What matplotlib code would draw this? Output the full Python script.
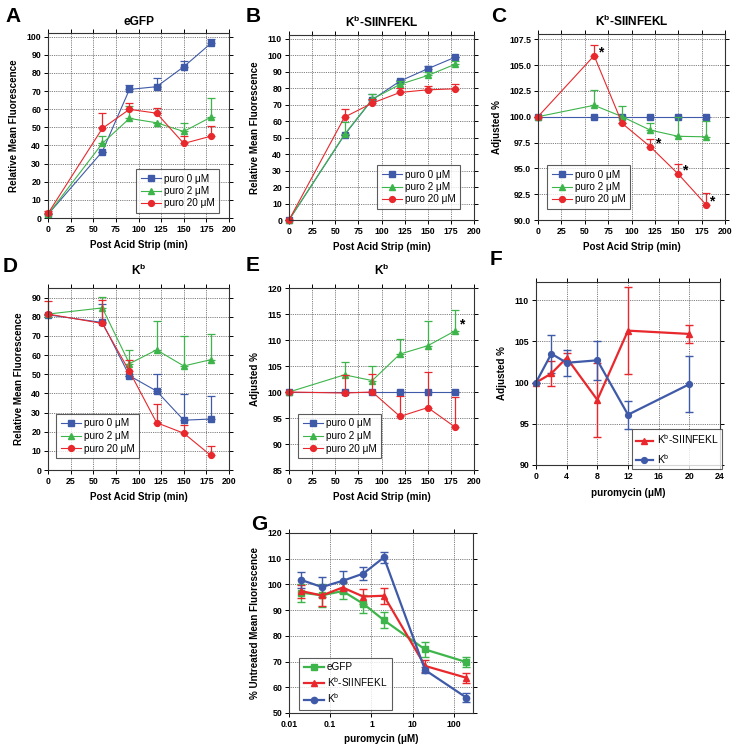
import numpy as np
import matplotlib
matplotlib.use("Agg")
import matplotlib.pyplot as plt

plt.rcParams['font.family'] = ['Liberation Sans', 'DejaVu Sans']
plt.rcParams['mathtext.fontset'] = 'custom'
plt.rcParams['mathtext.rm'] = 'Liberation Sans'
plt.rcParams['mathtext.bf'] = 'Liberation Sans:bold'
plt.rcParams['mathtext.it'] = 'Liberation Sans:italic'

# ---------------- data ----------------
time_min = [0, 60, 90, 120, 150, 180]
series_names = ["puro 0 \u03bcM", "puro 2 \u03bcM", "puro 20 \u03bcM"]

# Panel A: eGFP
a_p0 = [2, 36.6, 70.9, 72.4, 83.4, 96.3]
a_p0_up = [2, 36.6, 73.1, 77.2, 86.4, 98.9]
a_p2 = [2, 41.1, 54.9, 52.5, 47.7, 55.6]
a_p2_up = [2, 45.0, 61.7, 52.5, 52.6, 65.9]
a_p20 = [2.5, 49.4, 59.9, 57.8, 41.1, 45.1]
a_p20_up = [3.8, 58.0, 63.5, 60.4, 45.1, 50.5]

# Panel B: Kb-SIINFEKL
b_p0 = [0, 51.7, 73.1, 84.4, 91.9, 99.0]
b_p0_up = [0, 51.7, 76.5, 85.2, 93.7, 99.0]
b_p2 = [0, 52.0, 73.4, 82.4, 87.8, 94.7]
b_p2_up = [0, 59.8, 76.7, 84.6, 89.7, 96.8]
b_p20 = [0, 62.5, 71.0, 77.5, 79.1, 79.7]
b_p20_up = [0, 67.3, 73.8, 80.1, 81.7, 82.6]

# Panel C: Kb-SIINFEKL adjusted
c_p0 = [100, 100, 100, 100, 100, 100]
c_p0_up = [100, 100, 100, 100, 100, 100]
c_p2 = [100, 101.1, 100.0, 98.7, 98.1, 98.05]
c_p2_up = [100, 102.6, 101.0, 99.4, 100.0, 99.6]
c_p20 = [100, 105.9, 99.35, 97.1, 94.45, 91.45]
c_p20_up = [100, 106.9, 99.35, 97.8, 95.4, 92.6]
c_star_x = [67, 128, 157, 186]
c_star_y = [106.2, 97.4, 94.8, 91.8]

# Panel D: Kb
d_p0 = [81.0, 77.0, 49.2, 41.2, 26.0, 26.6]
d_p0_up = [81.0, 86.5, 49.2, 50.0, 39.7, 38.4]
d_p2 = [81.4, 84.6, 55.5, 62.7, 54.3, 57.6]
d_p2_up = [81.4, 90.5, 62.8, 77.6, 69.9, 70.8]
d_p20 = [81.4, 76.5, 51.5, 24.7, 19.2, 7.6]
d_p20_up = [88.2, 88.6, 57.6, 34.4, 23.6, 12.4]

# Panel E: Kb adjusted
e_p0 = [100, 100, 100, 100, 100, 100]
e_p0_up = [100, 100, 100, 100, 100, 100]
e_p2 = [100, 103.3, 102.2, 107.3, 108.9, 111.8]
e_p2_up = [100, 105.7, 105.0, 110.2, 113.6, 115.8]
e_p20 = [100, 99.8, 100.0, 95.3, 97.0, 93.2]
e_p20_up = [100, 103.3, 103.5, 99.2, 103.8, 99.0]
e_star_x = [187]
e_star_y = [112.9]

# Panel F: puromycin dose, adjusted %
f_dose = [0, 2, 4, 8, 12, 20]
f_kbs = [100, 101.1, 103.0, 97.9, 106.3, 105.9]
f_kbs_err = [0, 1.5, 0.6, 4.5, 5.3, 1.1]
f_kb = [100, 103.5, 102.4, 102.7, 96.1, 99.8]
f_kb_err = [0, 2.3, 1.6, 2.4, 1.7, 3.4]

# Panel G: % untreated mean fluorescence vs puromycin
g_dose = [0.02, 0.063, 0.2, 0.63, 2, 20, 200]
g_egfp = [96.8, 95.8, 97.4, 92.5, 86.1, 74.7, 69.8]
g_egfp_err = [3.5, 4.5, 3.2, 3.5, 3.0, 3.0, 2.0]
g_kbs = [97.4, 95.7, 98.8, 95.3, 95.6, 68.3, 63.7]
g_kbs_err = [2.5, 4.0, 2.0, 3.0, 3.2, 2.5, 2.0]
g_kb = [101.7, 99.0, 101.4, 104.2, 110.5, 66.7, 56.0]
g_kb_err = [3.0, 4.0, 4.0, 2.5, 2.2, 1.0, 1.7]

BLUE = '#3F5AA8'
GREEN = '#3DB54A'
RED = '#E8282C'

LABEL_FS = 7.1
TITLE_FS = 8.6

W, H = 732, 745
fig = plt.figure(figsize=(W / 100, H / 100), dpi=100)


def make_ax(l, t, r, b):
    return fig.add_axes([l / W, 1 - b / H, (r - l) / W, (b - t) / H])


def style(ax):
    ax.grid(True, which='major', linestyle=(0, (1, 1.2)), color='#555555', linewidth=0.6)
    ax.set_axisbelow(True)
    ax.tick_params(which='both', direction='out', length=3, width=0.7, top=True, right=True,
                   labelsize=6.3, pad=2)
    for lab in ax.get_xticklabels() + ax.get_yticklabels():
        lab.set_fontweight('bold')
    for s in ax.spines.values():
        s.set_linewidth(0.8)
        s.set_color('#333333')


def letter(ch, x, ybase):
    fig.text(x / W, 1 - ybase / H, ch, fontsize=15, fontweight='bold', va='baseline', ha='left')


def legend_at(ax, handles, labels, l, t, fs=7.2, hl=2.0, ls=0.25, bp=0.45):
    leg = ax.legend(handles, labels, loc='upper left', bbox_to_anchor=(l / W, 1 - t / H),
                    bbox_transform=fig.transFigure, borderaxespad=0, frameon=True, fancybox=False,
                    fontsize=fs, handlelength=hl, handletextpad=0.35, labelspacing=ls,
                    borderpad=bp)
    leg.get_frame().set_edgecolor('#333333')
    leg.get_frame().set_linewidth(0.8)
    return leg


def time_panel(ax, data, title, ylim, yticks, ylabel, fmt=None, title_pad=6):
    markers = ['s', '^', 'o']
    colors = [BLUE, GREEN, RED]
    handles = []
    for (vals, ups), m, c, name in zip(data, markers, colors, series_names):
        vals = np.array(vals, float)
        ups = np.array(ups, float)
        err = np.vstack([np.zeros_like(vals), ups - vals])
        ax.errorbar(time_min, vals, yerr=err, fmt='none', ecolor=c, elinewidth=0.9, capsize=3,
                    capthick=0.9, clip_on=False)
        ln, = ax.plot(time_min, vals, marker=m, color=c, linewidth=0.8, markersize=4.2,
                      clip_on=False, label=name)
        handles.append(ln)
    ax.set_xlim(0, 200)
    ax.set_xticks(np.arange(0, 201, 25))
    ax.set_ylim(*ylim)
    ax.set_yticks(yticks)
    if fmt:
        ax.set_yticklabels([fmt.format(v) for v in yticks])
    ax.set_xlabel('Post Acid Strip (min)', fontsize=LABEL_FS, fontweight='bold', labelpad=4)
    ax.set_ylabel(ylabel, fontsize=LABEL_FS, fontweight='bold', labelpad=5)
    ax.set_title(title, fontsize=TITLE_FS, fontweight='bold', pad=title_pad)
    style(ax)
    return handles


# Panel A
axA = make_ax(48, 33, 229, 218)
hA = time_panel(axA, [(a_p0, a_p0_up), (a_p2, a_p2_up), (a_p20, a_p20_up)], 'eGFP',
                (0, 102), np.arange(0, 101, 10), 'Relative Mean Fluorescence')
legend_at(axA, hA, series_names, 136, 169)
letter('A', 5, 22)

# Panel B
axB = make_ax(289, 35, 474, 220)
hB = time_panel(axB, [(b_p0, b_p0_up), (b_p2, b_p2_up), (b_p20, b_p20_up)],
                r'K$^{\mathbf{b}}$-SIINFEKL', (0, 112.4), np.arange(0, 111, 10),
                'Relative Mean Fluorescence')
legend_at(axB, hB, series_names, 377, 165)
letter('B', 246, 22)

# Panel C
axC = make_ax(538, 34, 725, 220)
hC = time_panel(axC, [(c_p0, c_p0_up), (c_p2, c_p2_up), (c_p20, c_p20_up)],
                r'K$^{\mathbf{b}}$-SIINFEKL', (90, 108), np.arange(90, 107.6, 2.5), 'Adjusted %',
                fmt='{:.1f}')
for x, y in zip(c_star_x, c_star_y):
    axC.text(x, y, '*', fontsize=10, fontweight='bold', ha='center', va='center')
legend_at(axC, hC, series_names, 547, 165)
letter('C', 491, 22)

# Panel D
axD = make_ax(48, 288, 229, 470)
hD = time_panel(axD, [(d_p0, d_p0_up), (d_p2, d_p2_up), (d_p20, d_p20_up)],
                r'K$^{\mathbf{b}}$', (0, 95), np.arange(0, 91, 10), 'Relative Mean Fluorescence',
                title_pad=9)
legend_at(axD, hD, series_names, 56, 414)
letter('D', 3, 272)

# Panel E
axE = make_ax(289, 288, 474, 470)
hE = time_panel(axE, [(e_p0, e_p0_up), (e_p2, e_p2_up), (e_p20, e_p20_up)],
                r'K$^{\mathbf{b}}$', (85, 120), np.arange(85, 121, 5), 'Adjusted %',
                title_pad=9)
for x, y in zip(e_star_x, e_star_y):
    axE.text(x, y, '*', fontsize=10, fontweight='bold', ha='center', va='center')
legend_at(axE, hE, series_names, 298, 414)
letter('E', 246, 271)

# Panel F
axF = make_ax(536, 282, 720, 465)
axF.errorbar(f_dose, f_kbs, yerr=f_kbs_err, fmt='none', ecolor=RED, elinewidth=1.0, capsize=3,
             capthick=1.0, clip_on=False)
axF.errorbar(f_dose, f_kb, yerr=f_kb_err, fmt='none', ecolor=BLUE, elinewidth=1.0, capsize=3,
             capthick=1.0, clip_on=False)
lf1, = axF.plot(f_dose, f_kbs, marker='^', color=RED, linewidth=1.6, markersize=4.2, clip_on=False)
lf2, = axF.plot(f_dose, f_kb, marker='o', color=BLUE, linewidth=1.6, markersize=4.2, clip_on=False)
axF.set_xlim(0, 24)
axF.set_xticks(np.arange(0, 25, 4))
axF.set_ylim(90, 112.2)
axF.set_yticks(np.arange(90, 111, 5))
axF.set_xlabel('puromycin (\u03bcM)', fontsize=LABEL_FS, fontweight='bold', labelpad=5)
axF.set_ylabel('Adjusted %', fontsize=LABEL_FS, fontweight='bold', labelpad=5)
style(axF)
legend_at(axF, [lf1, lf2], [r'K$^{\mathregular{b}}$-SIINFEKL', r'K$^{\mathregular{b}}$'], 632, 429,
          fs=7.4, hl=1.7, ls=0.55, bp=0.35)
letter('F', 490, 265)

# Panel G
axG = make_ax(289, 533, 473, 713)
for vals, err, m, c in [(g_egfp, g_egfp_err, 's', GREEN), (g_kbs, g_kbs_err, '^', RED),
                        (g_kb, g_kb_err, 'o', BLUE)]:
    axG.errorbar(g_dose, vals, yerr=err, fmt='none', ecolor=c, elinewidth=1.0, capsize=3,
                 capthick=1.0)
lg1, = axG.plot(g_dose, g_egfp, marker='s', color=GREEN, linewidth=1.6, markersize=4.5)
lg2, = axG.plot(g_dose, g_kbs, marker='^', color=RED, linewidth=1.6, markersize=4.5)
lg3, = axG.plot(g_dose, g_kb, marker='o', color=BLUE, linewidth=1.6, markersize=4.5)
axG.set_xscale('log')
axG.set_xlim(0.01, 290)
axG.set_xticks([0.01, 0.1, 1, 10, 100])
axG.set_xticklabels(['0.01', '0.1', '1', '10', '100'])
axG.minorticks_off()
axG.set_ylim(50, 120)
axG.set_yticks(np.arange(50, 121, 10))
axG.set_xlabel('puromycin (\u03bcM)', fontsize=LABEL_FS, fontweight='bold', labelpad=4)
axG.set_ylabel('% Untreated Mean Fluorescence', fontsize=LABEL_FS, fontweight='bold', labelpad=5)
style(axG)
axG.minorticks_off()
legend_at(axG, [lg1, lg2, lg3], ['eGFP', r'K$^{\mathregular{b}}$-SIINFEKL', r'K$^{\mathregular{b}}$'],
          299, 658)
letter('G', 251, 530)

fig.savefig('out.png', dpi=100)
